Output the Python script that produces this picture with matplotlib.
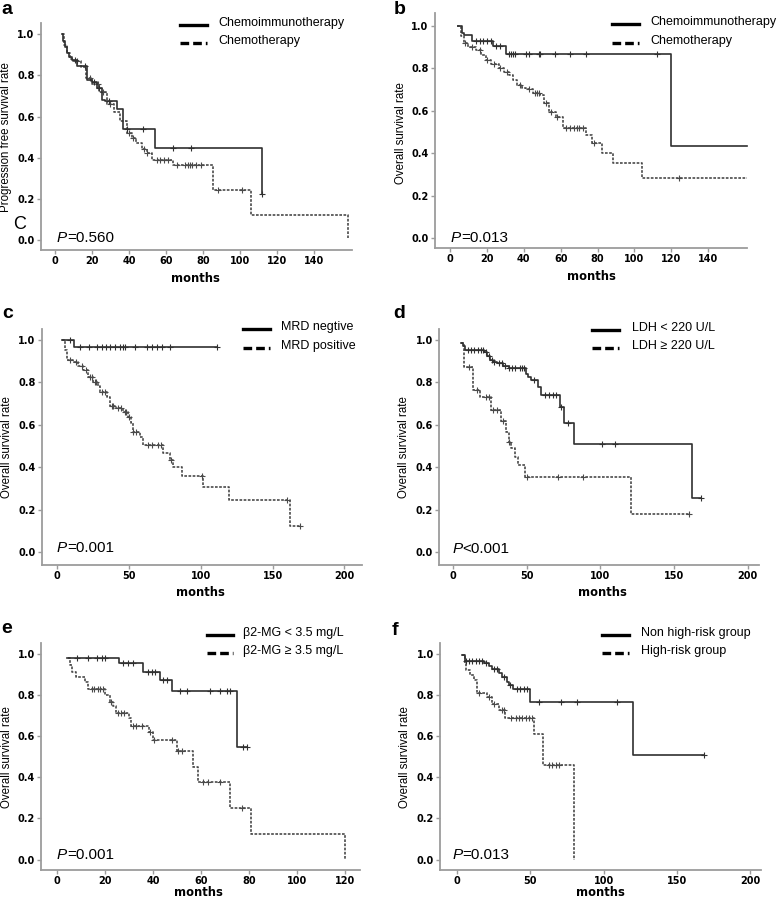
import numpy as np
import matplotlib
matplotlib.use("Agg")
import matplotlib.pyplot as plt
from matplotlib.lines import Line2D

plt.rcParams['font.family'] = ['Liberation Sans', 'DejaVu Sans']

W, H = 778, 902

# ---- data (months, survival) ----
# a: progression free survival, chemoimmunotherapy vs chemotherapy
a_solid_t = [3.6, 4.5, 5.5, 6.5, 7.5, 9, 12, 17.1, 20, 22.5, 25.2, 27, 33.3, 36.6, 54.2, 111.7]
a_solid_s = [1.0, 0.97, 0.94, 0.91, 0.89, 0.875, 0.845, 0.78, 0.77, 0.74, 0.68, 0.675, 0.636, 0.54, 0.447, 0.222]
a_solid_c = [11, 16, 21, 24, 29, 39, 47.7, 64, 73.3, 111.7]
a_dash_t = [3.6, 5, 6.5, 8, 10, 14, 17, 20, 24, 28, 32, 35, 38.7, 41.4, 44, 47, 50, 52.4, 64, 85.6, 105.8, 158.6]
a_dash_s = [1.0, 0.95, 0.91, 0.88, 0.87, 0.84, 0.79, 0.76, 0.72, 0.66, 0.62, 0.58, 0.52, 0.495, 0.47, 0.44, 0.42, 0.39, 0.365, 0.243, 0.122, 0.01]
a_dash_c = [12, 19, 23, 26, 30, 40, 42, 48, 50, 55, 57, 59, 61, 66, 70, 72, 73, 74, 76, 79, 88, 101]

# b: overall survival, chemoimmunotherapy vs chemotherapy
b_solid_t = [4.5, 6.3, 7.5, 12, 23.3, 30.6, 120, 161]
b_solid_s = [1.0, 0.965, 0.956, 0.93, 0.905, 0.867, 0.433, 0.433]
b_solid_c = [14, 16, 18, 20, 22, 25, 27, 32, 33, 34, 35, 41, 43, 48, 49, 57, 65, 73.5, 112]
b_dash_t = [4, 5.8, 7.6, 10, 14, 17, 19.3, 22, 26.5, 29, 32, 34, 36.5, 39, 41, 45, 49, 51, 53.6, 57.3, 61,
            73.5, 77, 82.5, 88.3, 104.2, 161]
b_dash_s = [1.0, 0.95, 0.917, 0.90, 0.886, 0.86, 0.84, 0.82, 0.80, 0.78, 0.77, 0.745, 0.72, 0.705, 0.70, 0.685,
            0.675, 0.635, 0.596, 0.572, 0.52, 0.486, 0.45, 0.40, 0.353, 0.282, 0.282]
b_dash_c = [8, 12, 16, 20, 24, 27, 31, 38, 43, 46, 47, 48, 52, 55, 58, 63, 65, 67, 69, 70, 72, 78, 124]

# c: MRD negative vs positive
c_solid_t = [3, 11.6, 111]
c_solid_s = [1.0, 0.967, 0.967]
c_solid_c = [8.8, 15.8, 22.3, 27.4, 30.9, 33.9, 36.7, 40.2, 43.6, 46, 47.4, 54.1, 62.2, 65.7, 69.2, 72.7, 78.5, 111]
c_dash_t = [3, 5.3, 6.5, 11.1, 14.6, 18.1, 21.6, 25, 28.6, 29.7, 34.4, 36.7, 40.2, 46, 49.5, 51.1, 52.5, 57.6, 60,
            73.4, 78.5, 80.8, 86.6, 101.7, 119.9, 162, 169]
c_dash_s = [1.0, 0.951, 0.904, 0.896, 0.876, 0.857, 0.826, 0.80, 0.78, 0.755, 0.73, 0.69, 0.677, 0.66, 0.638,
            0.607, 0.567, 0.544, 0.505, 0.465, 0.434, 0.403, 0.36, 0.307, 0.246, 0.123, 0.123]
c_dash_c = [9, 13, 17, 20, 23, 24, 26, 27, 31, 33, 38, 39, 42, 44, 47, 48, 50, 53, 55, 63, 66, 70, 72, 79, 101, 160, 169]

# d: LDH
d_solid_t = [5.4, 6.5, 7.7, 21, 23, 25, 27, 30, 34, 37.8, 49.6, 51, 53, 57.5, 59.3, 72.3, 75.2, 82, 162, 168]
d_solid_s = [0.983, 0.97, 0.951, 0.94, 0.925, 0.904, 0.895, 0.889, 0.878, 0.865, 0.84, 0.825, 0.81, 0.779, 0.74,
             0.685, 0.607, 0.508, 0.253, 0.253]
d_solid_c = [10, 12, 14, 17, 19, 20, 22, 24, 26, 28, 31, 33, 35, 38, 40, 42, 45, 47, 48, 55, 62, 65, 68, 70, 73,
             78, 101, 110, 168]
d_dash_t = [5.4, 7.3, 13.4, 17.9, 25.8, 32.6, 36, 37.8, 39.4, 41.7, 43.9, 48.9, 121, 160]
d_dash_s = [0.983, 0.873, 0.763, 0.732, 0.669, 0.617, 0.567, 0.52, 0.489, 0.45, 0.41, 0.356, 0.178, 0.178]
d_dash_c = [11, 16, 22, 24, 27, 30, 34, 38, 50, 71, 88, 160]

# e: beta2-MG
e_solid_t = [3.9, 25.7, 35.9, 42.8, 47.7, 74.8, 79]
e_solid_s = [0.977, 0.953, 0.913, 0.87, 0.82, 0.545, 0.545]
e_solid_c = [8.1, 12.9, 16.4, 18.5, 19.9, 27.5, 29.6, 31.7, 38, 39.4, 40.8, 44.2, 45.6, 51.2, 54, 63.7, 67.9,
             70.7, 72, 77.6, 79]
e_dash_t = [4.5, 5.2, 6.2, 7.6, 11.7, 13, 20, 21.8, 23.3, 24.6, 29.8, 30.9, 38.1, 39.9, 49.8, 56.7, 58.8, 72, 81, 120]
e_dash_s = [0.977, 0.945, 0.913, 0.885, 0.864, 0.827, 0.80, 0.767, 0.746, 0.714, 0.686, 0.649, 0.621, 0.581,
            0.527, 0.45, 0.377, 0.25, 0.125, 0.0]
e_dash_c = [14.5, 15.5, 17, 18, 19, 22.5, 25.5, 26.5, 28, 31.5, 33, 35.5, 38.5, 40.5, 48, 50.5, 52, 61, 63, 68, 77]

# f: risk group
f_solid_t = [3.4, 5.2, 18.2, 21.6, 23.9, 28.4, 30.7, 34.1, 35.7, 38, 49.6, 119.8, 168.4]
f_solid_s = [0.994, 0.965, 0.955, 0.94, 0.924, 0.905, 0.888, 0.864, 0.848, 0.827, 0.764, 0.508, 0.508]
f_solid_c = [6, 8, 10.5, 12.7, 15, 17, 20, 25, 27, 32, 36, 41, 43, 45.5, 48, 56, 71, 82, 109, 168.4]
f_dash_t = [3.4, 5.2, 6.1, 9.1, 11.4, 13.6, 20.7, 24, 28.6, 33, 52.5, 58.9, 79.8]
f_dash_s = [0.994, 0.953, 0.921, 0.897, 0.872, 0.81, 0.79, 0.755, 0.724, 0.686, 0.61, 0.46, 0.0]
f_dash_c = [15, 21.8, 25.2, 31, 32, 36.6, 40, 42.3, 44.5, 46.8, 49, 51.4, 62.7, 65, 67.3, 69.5]

# ---- layout (pixel boxes of the axes frames) ----
panels = [
    dict(letter='a', box=(40.7, 22.7, 352, 250), xlim=(-7.7, 160.5), ylim=(-0.05, 1.057),
         xticks=range(0, 141, 20), ylabel='Progression free survival rate',
         leg=('Chemoimmunotherapy', 'Chemotherapy'), p='=0.560',
         solid=(a_solid_t, a_solid_s, a_solid_c), dash=(a_dash_t, a_dash_s, a_dash_c),
         letter_xy=(1.5, 13.5), leg_x=(180, 207, 218), leg_y=(25, 43), p_xy=(56.7, 238.3),
         mon_xy=(195.7, 278.3), yl_xy=(6.5, 136.7)),
    dict(letter='b', box=(434.7, 13.3, 747, 248), xlim=(-8.3, 161), ylim=(-0.046, 1.058),
         xticks=range(0, 141, 20), ylabel='Overall survival rate',
         leg=('Chemoimmunotherapy', 'Chemotherapy'), p='=0.013',
         solid=(b_solid_t, b_solid_s, b_solid_c), dash=(b_dash_t, b_dash_s, b_dash_c),
         letter_xy=(393.5, 13.5), leg_x=(611.7, 639, 650), leg_y=(24, 42.7), p_xy=(450.7, 238.3),
         mon_xy=(591.3, 276.7), yl_xy=(401.5, 132.7)),
    dict(letter='c', box=(41.7, 329.3, 361.7, 565), xlim=(-10.9, 212), ylim=(-0.06, 1.049),
         xticks=range(0, 201, 50), ylabel='Overall survival rate',
         leg=('MRD negtive', 'MRD positive'), p='=0.001',
         solid=(c_solid_t, c_solid_s, c_solid_c), dash=(c_dash_t, c_dash_s, c_dash_c),
         letter_xy=(2.5, 318.3), leg_x=(243.3, 270, 281), leg_y=(329.3, 348.3), p_xy=(56.7, 548.3),
         mon_xy=(200, 592.7), yl_xy=(7.3, 446.7)),
    dict(letter='d', box=(439, 329.3, 759, 565), xlim=(-9.7, 207.7), ylim=(-0.06, 1.049),
         xticks=range(0, 201, 50), ylabel='Overall survival rate',
         leg=('LDH < 220 U/L', 'LDH \u2265 220 U/L'), p='<0.001',
         solid=(d_solid_t, d_solid_s, d_solid_c), dash=(d_dash_t, d_dash_s, d_dash_c),
         letter_xy=(393.5, 318.3), leg_x=(592.3, 619, 631.7), leg_y=(330, 348.3), p_xy=(452.3, 549.3),
         mon_xy=(602.3, 592.7), yl_xy=(404, 446.7)),
    dict(letter='e', box=(41, 642.7, 360, 870), xlim=(-6.8, 126.3), ylim=(-0.05, 1.053),
         xticks=range(0, 121, 20), ylabel='Overall survival rate',
         leg=('\u03b22-MG < 3.5 mg/L', '\u03b22-MG \u2265 3.5 mg/L'), p='=0.001',
         solid=(e_solid_t, e_solid_s, e_solid_c), dash=(e_dash_t, e_dash_s, e_dash_c),
         letter_xy=(1.5, 633.3), leg_x=(206.7, 233.3, 243.3), leg_y=(635, 652.7), p_xy=(56.7, 855),
         mon_xy=(198.3, 893), yl_xy=(6.7, 756.7)),
    dict(letter='f', box=(440, 642.7, 760.7, 870), xlim=(-11.6, 207), ylim=(-0.05, 1.053),
         xticks=range(0, 201, 50), ylabel='Overall survival rate',
         leg=('Non high-risk group', 'High-risk group'), p='=0.013',
         solid=(f_solid_t, f_solid_s, f_solid_c), dash=(f_dash_t, f_dash_s, f_dash_c),
         letter_xy=(392, 635), leg_x=(602.3, 629, 640.7), leg_y=(635, 653.3), p_xy=(452.3, 855),
         mon_xy=(600.7, 893), yl_xy=(405, 756.7)),
]


def fx(x):
    return x / W


def fy(y):
    return 1 - y / H


def km(ax, t, s, c, style, color):
    t = np.asarray(t, float)
    s = np.asarray(s, float)
    ax.step(t, s, where='post', color=color, lw=1.2, linestyle=style, clip_on=False)
    c = np.asarray(c, float)
    idx = np.clip(np.searchsorted(t, c, side='right') - 1, 0, len(s) - 1)
    ax.plot(c, s[idx], linestyle='none', marker='+', ms=4.5, mew=0.8, color=color, clip_on=False)


fig = plt.figure(figsize=(W / 100, H / 100), dpi=100)
spine_col = '#9c9c9c'

for p in panels:
    l, t, r, b = p['box']
    ax = fig.add_axes([fx(l), fy(b), (r - l) / W, (b - t) / H])
    ax.set_xlim(*p['xlim'])
    ax.set_ylim(*p['ylim'])
    for side in ('top', 'right'):
        ax.spines[side].set_visible(False)
    for side in ('left', 'bottom'):
        ax.spines[side].set_color(spine_col)
        ax.spines[side].set_linewidth(1.3)
    ax.set_xticks(list(p['xticks']))
    ax.set_yticks(np.arange(0, 1.01, 0.2))
    ax.set_yticklabels(['%.1f' % v for v in np.arange(0, 1.01, 0.2)])
    ax.tick_params(direction='out', length=3, width=1, color=spine_col, pad=1.5)
    for lab in ax.get_xticklabels() + ax.get_yticklabels():
        lab.set_fontfamily('DejaVu Sans')
        lab.set_fontweight('bold')
        lab.set_fontsize(7)

    km(ax, *p['dash'], style=(0, (1.6, 0.9)), color='#4a4a4a')
    km(ax, *p['solid'], style='-', color='#303030')

    # texts
    fig.text(fx(p['letter_xy'][0]), fy(p['letter_xy'][1]), p['letter'], fontsize=14,
             fontweight='bold', va='baseline', ha='left')
    fig.text(fx(p['mon_xy'][0]), fy(p['mon_xy'][1]), 'months', fontsize=8.3, fontweight='bold',
             family='DejaVu Sans', ha='center', va='center')
    fig.text(fx(p['yl_xy'][0]), fy(p['yl_xy'][1]), p['ylabel'], fontsize=8.3, rotation=90,
             ha='center', va='center')
    pt = fig.text(fx(p['p_xy'][0]), fy(p['p_xy'][1]), 'P', fontsize=11, style='italic',
                  ha='left', va='center')
    ax.annotate(p['p'], xy=(1, 0), xycoords=pt, fontsize=11, ha='left', va='bottom')

    # legend
    x0, x1, xt = p['leg_x']
    for lab, yy, ls in zip(p['leg'], p['leg_y'], ['-', (0, (2.6, 1.2))]):
        fig.add_artist(Line2D([fx(x0), fx(x1)], [fy(yy), fy(yy)], color='black', lw=2.4,
                              linestyle=ls, transform=fig.transFigure))
        fig.text(fx(xt), fy(yy - 2), lab, fontsize=9, ha='left', va='center')

# stray letter in panel a
fig.text(fx(13), fy(229), 'C', fontsize=13, ha='left', va='baseline')

fig.savefig('out.png', dpi=100)
